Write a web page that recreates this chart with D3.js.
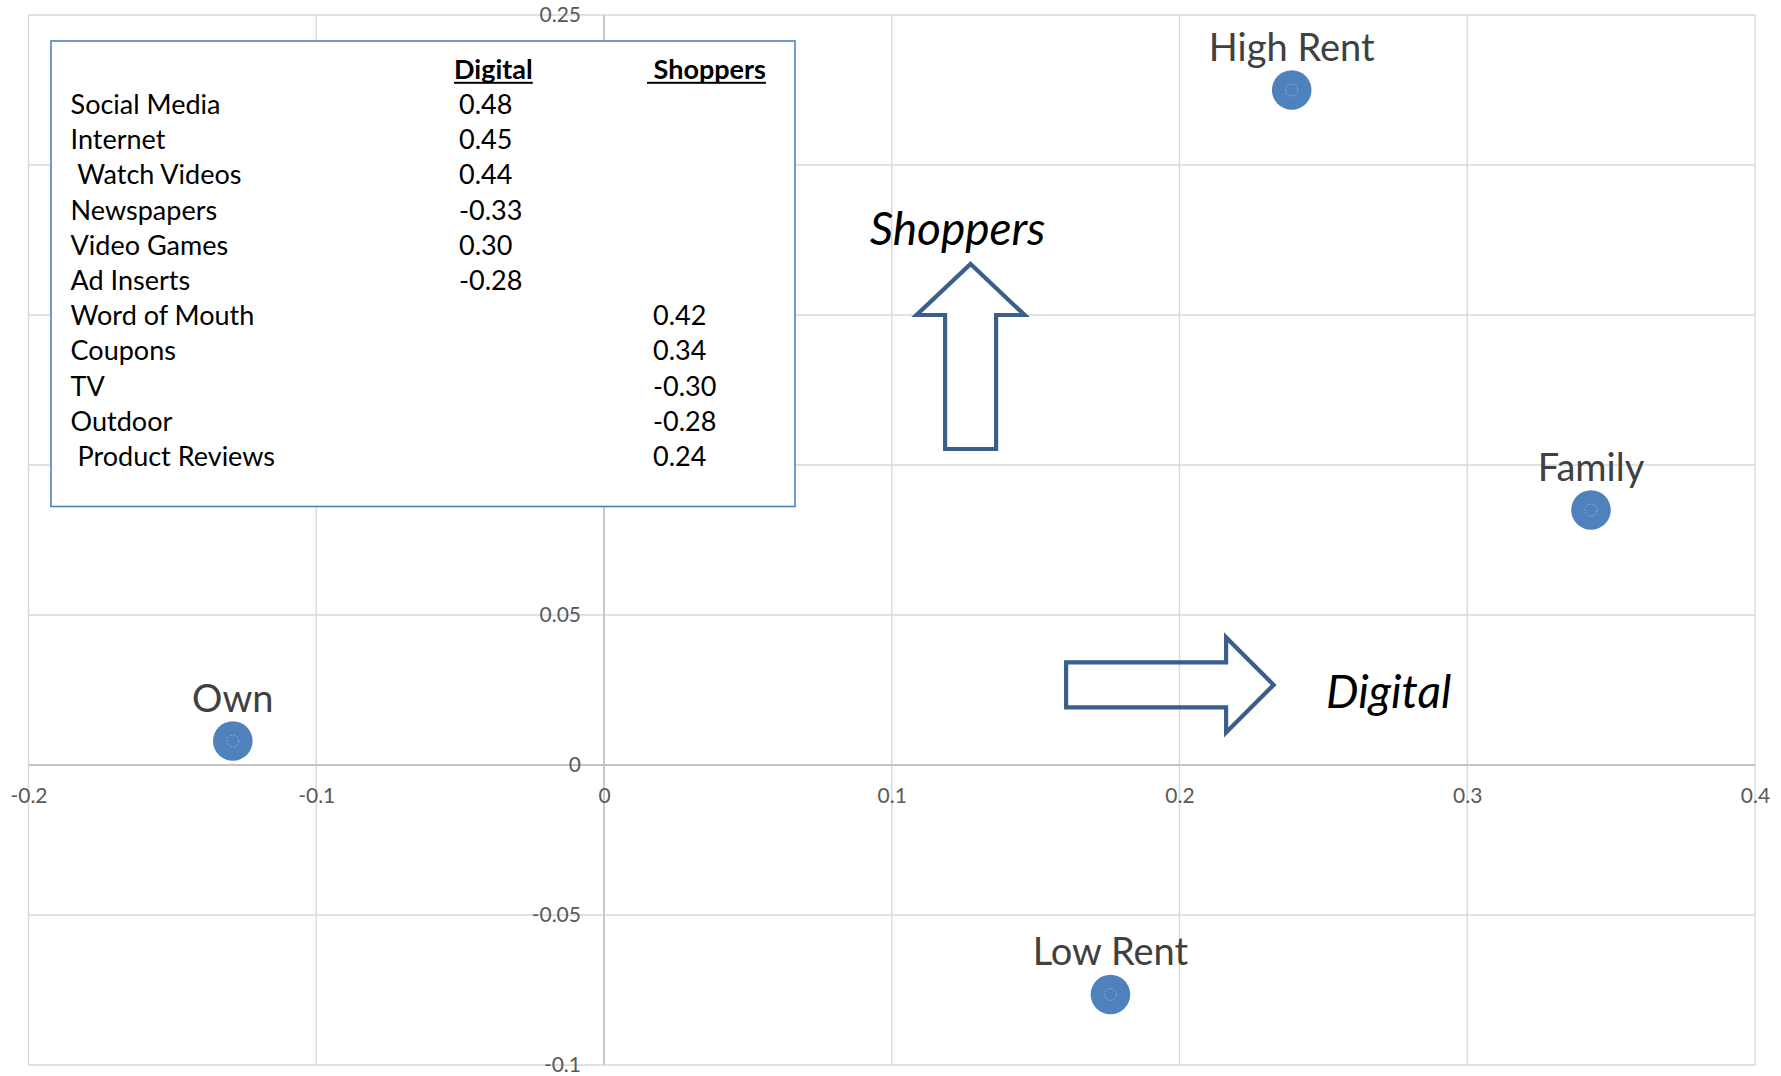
<!DOCTYPE html>
<html>
<head>
<meta charset="utf-8">
<script src="https://cdn.jsdelivr.net/npm/d3@7"></script>
<style>
  html, body { margin: 0; padding: 0; background: #ffffff; }
  svg { display: block; }
  text { white-space: pre; }
</style>
</head>
<body>
<svg id="chart" width="1781" height="1076"></svg>
<script>
// Segment scores on the two factors
const segments = ["High Rent", "Family", "Own", "Low Rent"];
const digitalScores = [0.239, 0.343, -0.129, 0.176];
const shoppersScores = [0.225, 0.085, 0.008, -0.0765];

// Axis ticks
const xTicks = [-0.2, -0.1, 0, 0.1, 0.2, 0.3, 0.4];
const xTickLabels = ["-0.2", "-0.1", "0", "0.1", "0.2", "0.3", "0.4"];
const yTicks = [-0.1, -0.05, 0, 0.05, 0.1, 0.15, 0.2, 0.25];
const yTickLabels = ["-0.1", "-0.05", "0", "0.05", "0.1", "0.15", "0.2", "0.25"];

// Factor loadings table
const loadingHeaders = ["Digital", " Shoppers"];
const mediaItems = ["Social Media", "Internet", " Watch Videos", "Newspapers", "Video Games", "Ad Inserts",
                    "Word of Mouth", "Coupons", "TV", "Outdoor", " Product Reviews"];
const digitalLoadings = [0.48, 0.45, 0.44, -0.33, 0.30, -0.28, null, null, null, null, null];
const shoppersLoadings = [null, null, null, null, null, null, 0.42, 0.34, -0.30, -0.28, 0.24];

// Factor direction annotations
const factorNames = ["Shoppers", "Digital"];

const svg = d3.select("#chart");
const FONT = "Lato, 'Open Sans', 'Noto Sans', sans-serif";

const x = d3.scaleLinear().domain([-0.2, 0.4]).range([28.5, 1755]);
const y = d3.scaleLinear().domain([-0.1, 0.25]).range([1065, 15]);

const fmt = d3.formatLocale({ decimal: ".", thousands: ",", grouping: [3], currency: ["", ""], minus: "-" }).format(".2f");

// Gridlines
const grid = svg.append("g");
grid.selectAll("line.v").data(xTicks.filter(d => d !== 0)).join("line")
  .attr("x1", d => x(d)).attr("x2", d => x(d))
  .attr("y1", y(0.25)).attr("y2", y(-0.1))
  .attr("stroke", "#d9d9d9").attr("stroke-width", 1.4);
grid.selectAll("line.h").data(yTicks.filter(d => d !== 0)).join("line")
  .attr("x1", x(-0.2)).attr("x2", x(0.4))
  .attr("y1", d => y(d)).attr("y2", d => y(d))
  .attr("stroke", "#d9d9d9").attr("stroke-width", 1.6);

// Zero axes
svg.append("line").attr("x1", x(0)).attr("x2", x(0)).attr("y1", y(0.25)).attr("y2", y(-0.1))
  .attr("stroke", "#c4c4c4").attr("stroke-width", 1.8);
svg.append("line").attr("x1", x(-0.2)).attr("x2", x(0.4)).attr("y1", y(0)).attr("y2", y(0))
  .attr("stroke", "#c4c4c4").attr("stroke-width", 2);

// Tick labels through d3 axes, crossing at zero
const xAxis = d3.axisBottom(x).tickValues(xTicks).tickFormat((d, i) => xTickLabels[i]).tickSize(0).tickPadding(23);
const yAxis = d3.axisLeft(y).tickValues(yTicks).tickFormat((d, i) => yTickLabels[i]).tickSize(0).tickPadding(23);
const gx = svg.append("g").attr("transform", `translate(0,${y(0)})`).call(xAxis);
const gy = svg.append("g").attr("transform", `translate(${x(0)},0)`).call(yAxis);
[gx, gy].forEach(g => {
  g.select(".domain").remove();
  g.selectAll("text").attr("fill", "#595959").style("font-family", FONT).style("font-size", "21px");
});

// Segment points
const pts = segments.map((s, i) => ({ name: s, dx: digitalScores[i], sy: shoppersScores[i] }));
const pg = svg.append("g");
pg.selectAll("circle.pt").data(pts).join("circle").attr("class", "pt")
  .attr("cx", d => x(d.dx)).attr("cy", d => y(d.sy)).attr("r", 19.8)
  .attr("fill", "#4f81bd");
pg.selectAll("circle.core").data(pts).join("circle").attr("class", "core")
  .attr("cx", d => x(d.dx)).attr("cy", d => y(d.sy)).attr("r", 6)
  .attr("fill", "none").attr("stroke", "#9bb8de").attr("stroke-width", 0.8).attr("stroke-dasharray", "2,1.5");
pg.selectAll("text").data(pts).join("text")
  .attr("x", d => x(d.dx)).attr("y", d => y(d.sy) - 29.5)
  .attr("text-anchor", "middle").attr("fill", "#404040")
  .style("font-family", FONT).style("font-size", "38px")
  .text(d => d.name);

// Direction arrows
const arrowStroke = "#3a5f8b";
function upArrow(tx, ty) {
  const headHalf = 54, headLen = 51, shaftHalf = 25.5, total = 185;
  const p = d3.path();
  p.moveTo(tx, ty);
  p.lineTo(tx + headHalf, ty + headLen);
  p.lineTo(tx + shaftHalf, ty + headLen);
  p.lineTo(tx + shaftHalf, ty + total);
  p.lineTo(tx - shaftHalf, ty + total);
  p.lineTo(tx - shaftHalf, ty + headLen);
  p.lineTo(tx - headHalf, ty + headLen);
  p.closePath();
  return p.toString();
}
function rightArrow(tx, ty) {
  const headHalf = 47.5, headLen = 47.5, shaftHalf = 22.5, total = 207.5;
  const p = d3.path();
  p.moveTo(tx, ty);
  p.lineTo(tx - headLen, ty + headHalf);
  p.lineTo(tx - headLen, ty + shaftHalf);
  p.lineTo(tx - total, ty + shaftHalf);
  p.lineTo(tx - total, ty - shaftHalf);
  p.lineTo(tx - headLen, ty - shaftHalf);
  p.lineTo(tx - headLen, ty - headHalf);
  p.closePath();
  return p.toString();
}
svg.append("path").attr("d", upArrow(x(0.1274), y(0.167)))
  .attr("fill", "#ffffff").attr("stroke", arrowStroke).attr("stroke-width", 4.2).attr("stroke-linejoin", "miter");
svg.append("path").attr("d", rightArrow(x(0.2327), y(0.0267)))
  .attr("fill", "none").attr("stroke", arrowStroke).attr("stroke-width", 4.2).attr("stroke-linejoin", "miter");

svg.append("text").attr("x", x(0.1274) - 13).attr("y", 244.5).attr("text-anchor", "middle")
  .style("font-family", FONT).style("font-size", "46px").style("font-style", "italic").attr("fill", "#000")
  .text(factorNames[0]);
svg.append("text").attr("x", 1326).attr("y", 708)
  .style("font-family", FONT).style("font-size", "46px").style("font-style", "italic").attr("fill", "#000")
  .text(factorNames[1]);

// Loadings table box
const tb = svg.append("g");
tb.append("rect").attr("x", 51).attr("y", 41).attr("width", 744).attr("height", 465.5)
  .attr("fill", "#ffffff").attr("stroke", "#4f81bd").attr("stroke-width", 1.6);

const rowY = i => 114 + 35.2 * i;
const colX = [459, 653];
const headX = [454, 647];
loadingHeaders.forEach((h, j) => {
  const t = tb.append("text").attr("x", headX[j]).attr("y", rowY(-1))
    .style("font-family", FONT).style("font-size", "27px").style("font-weight", "bold").attr("fill", "#000")
    .text(h);
  const w = t.node().getComputedTextLength();
  tb.append("rect").attr("x", headX[j]).attr("y", rowY(-1) + 3).attr("width", w).attr("height", 2).attr("fill", "#000");
});
tb.selectAll("text.item").data(mediaItems).join("text").attr("class", "item")
  .attr("x", 70.6).attr("y", (d, i) => rowY(i))
  .style("font-family", FONT).style("font-size", "27px").attr("fill", "#000")
  .text(d => d);
[digitalLoadings, shoppersLoadings].forEach((col, j) => {
  tb.selectAll("text.c" + j).data(col).join("text").attr("class", "c" + j)
    .attr("x", colX[j]).attr("y", (d, i) => rowY(i))
    .style("font-family", FONT).style("font-size", "27px").attr("fill", "#000")
    .text(d => d === null ? "" : fmt(d));
});
</script>
</body>
</html>
